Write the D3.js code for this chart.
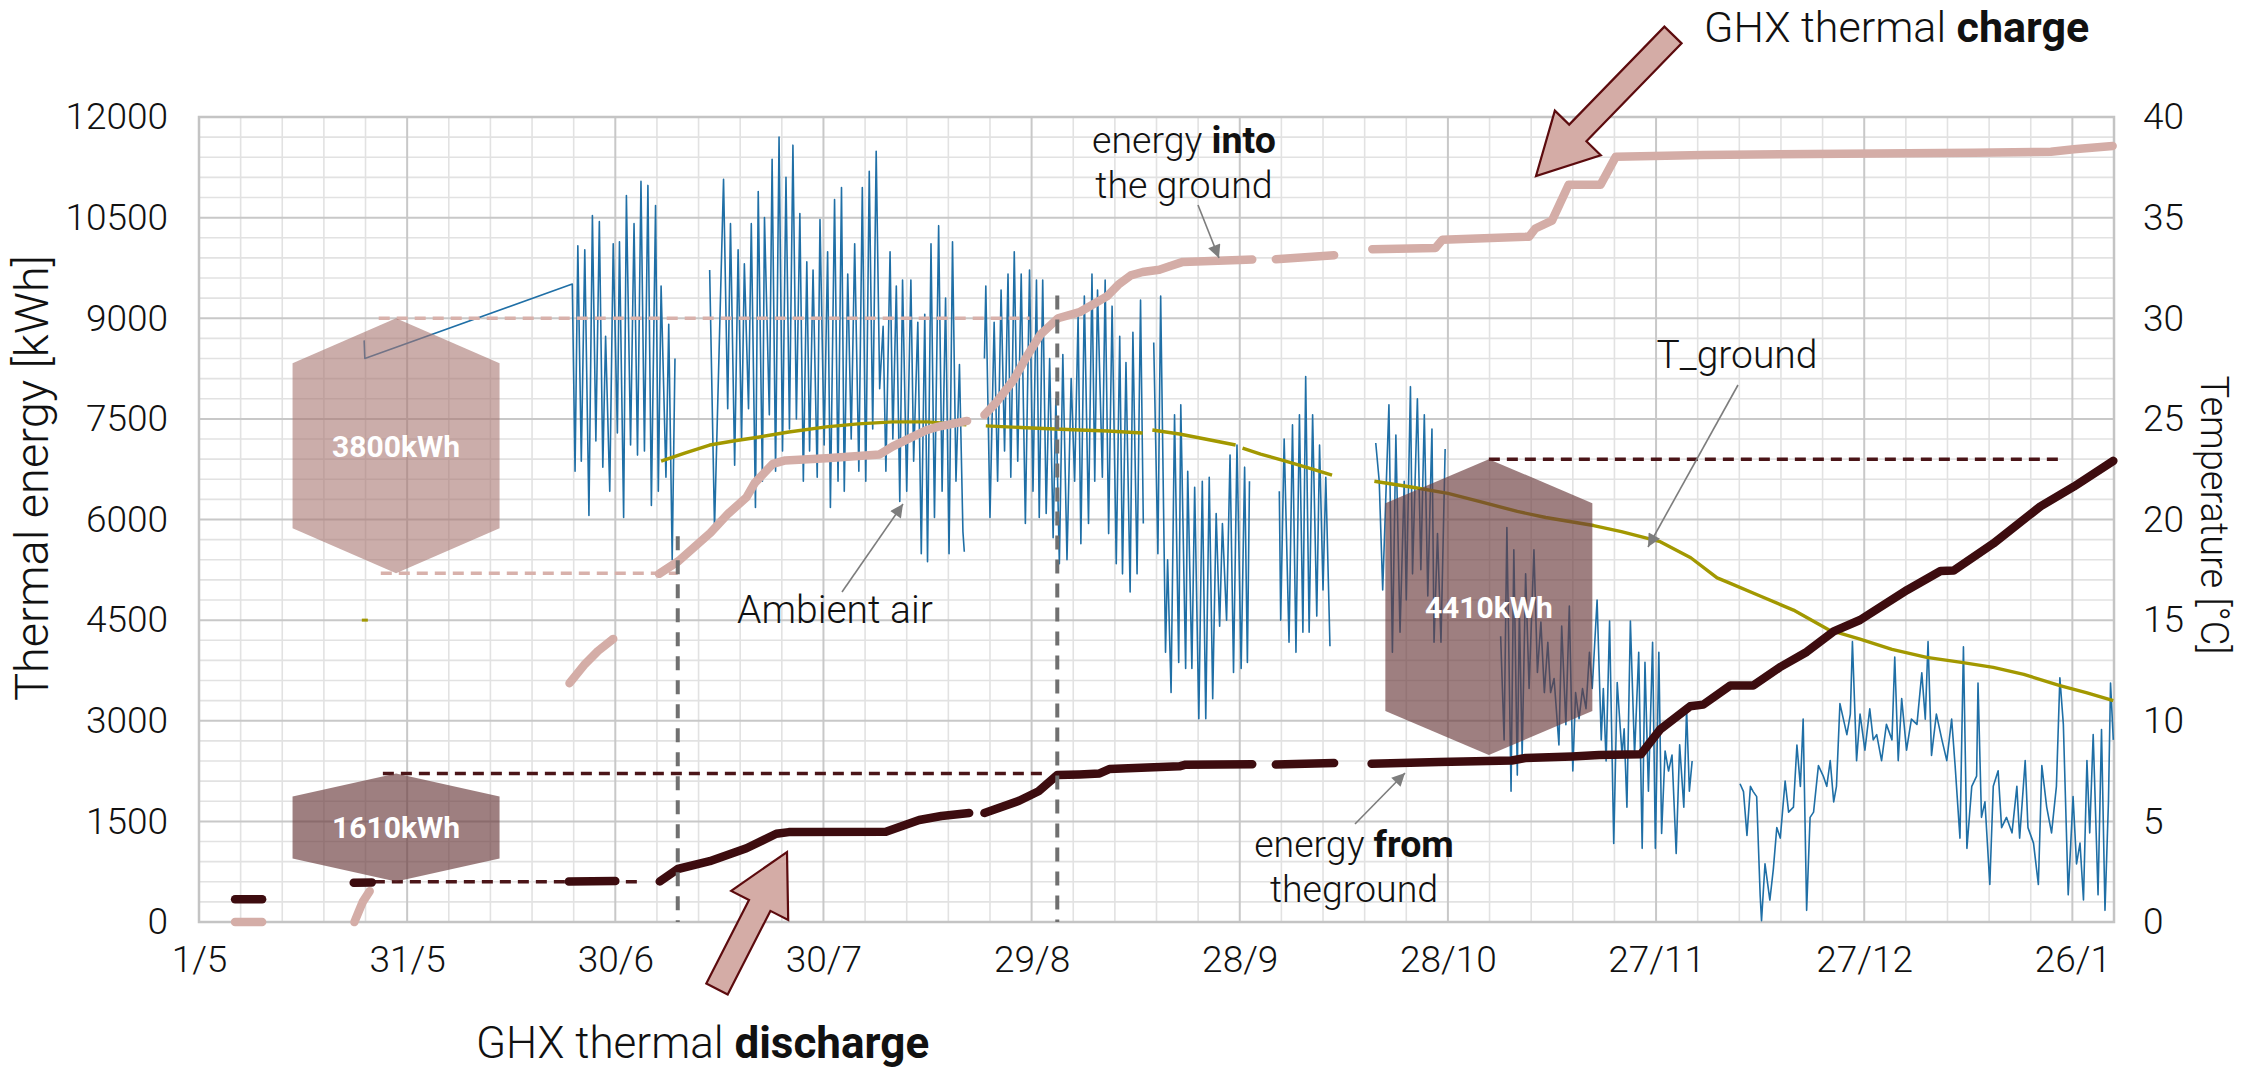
<!DOCTYPE html>
<html>
<head>
<meta charset="utf-8">
<script src="https://cdn.jsdelivr.net/npm/d3@7"></script>
<style>
  html, body { margin: 0; padding: 0; background: #ffffff; }
  svg { display: block; }
  text { font-family: Roboto, "Liberation Sans", Arial, sans-serif; }
</style>
</head>
<body>
<svg id="chart" width="2259" height="1071"></svg>
<script>
// ---------------------------------------------------------------------------
// Data: day offsets are counted from 1 May; energies in kWh, temperatures in °C
// ---------------------------------------------------------------------------
const xTickDates = ["2018-05-01", "2018-05-31", "2018-06-30", "2018-07-30", "2018-08-29",
                    "2018-09-28", "2018-10-28", "2018-11-27", "2018-12-27", "2019-01-26"];
const energyTicks = [0, 1500, 3000, 4500, 6000, 7500, 9000, 10500, 12000];
const tempTicks = [0, 5, 10, 15, 20, 25, 30, 35, 40];

// cumulative heat injected into the ground (logger gaps split the runs)
const energyIntoGround = [
  [[5.2, 0], [9.1, 0]],
  [[22.4, 0], [23.0, 150], [23.6, 300], [24.6, 460]],
  [[53.4, 3560], [55.5, 3830], [57.5, 4040], [59.7, 4220]],
  [[66.3, 5190], [69.1, 5380], [71.5, 5600], [73.7, 5800], [76.3, 6090], [78.9, 6330], [80.1, 6544],
   [82.7, 6830], [84.5, 6880], [90.4, 6912], [98.1, 6970], [100, 7090], [104.8, 7330], [106.4, 7380], [110.7, 7470]],
  [[113.2, 7560], [114.8, 7732], [117.4, 8080], [119.2, 8414], [121.3, 8760], [123.8, 9000], [126.9, 9090],
   [130.9, 9330], [132.5, 9500], [134.3, 9640], [136, 9690], [138.4, 9722], [140, 9780], [141.8, 9840],
   [149.9, 9870], [151.8, 9876]],
  [[155.2, 9880], [163.6, 9940]],
  [[169.1, 10030], [178.2, 10047], [179.2, 10170], [191.7, 10216], [192.6, 10338], [195, 10455], [197.4, 10990],
   [202, 10990], [204.2, 11409], [216.8, 11434], [255.8, 11468], [266.9, 11483], [270.2, 11519], [275.8, 11568]]
];

// cumulative heat extracted from the ground
const energyFromGround = [
  [[5.2, 340], [9.1, 340]],
  [[22.3, 586], [24.9, 590]],
  [[53.3, 605], [60, 610]],
  [[66.4, 605], [69, 790], [73.6, 906], [78.9, 1099], [83.2, 1315], [85, 1340], [99, 1345], [103.8, 1520],
   [107, 1580], [111, 1625]],
  [[113.2, 1625], [118.2, 1807], [121, 1950], [123.7, 2190], [126.9, 2200], [129.8, 2215], [131.2, 2280],
   [141.3, 2320], [142.2, 2345], [151.8, 2350]],
  [[155.2, 2346], [163.6, 2370]],
  [[169, 2360], [178.7, 2385], [189.2, 2407], [191.2, 2445], [197.9, 2468], [201.8, 2490], [207.8, 2500],
   [210.6, 2870], [214.9, 3215], [216.8, 3240], [220.7, 3525], [224, 3525], [227.8, 3795], [231.7, 4025],
   [235.6, 4332], [239.4, 4502], [246.2, 4950], [251, 5232], [252.9, 5241], [258.6, 5641], [265.4, 6196],
   [270.2, 6489], [275.9, 6874]]
];

// ground temperature
const groundTempPoint = [[23.9, 15.0]];
const groundTemp = [
  [[66.6, 22.9], [70, 23.3], [73.6, 23.7], [77, 23.9], [80.8, 24.1], [85, 24.35], [90.4, 24.6], [95, 24.75],
   [100, 24.85], [105, 24.85], [110.6, 24.7]],
  [[113.4, 24.65], [120, 24.55], [126.9, 24.45], [131, 24.4], [136, 24.3]],
  [[137.4, 24.45], [141.3, 24.25], [145, 24.0], [149.4, 23.7]],
  [[150.4, 23.55], [153, 23.25], [156.6, 22.9], [160, 22.55], [163.3, 22.2]],
  [[169.4, 21.9], [174.9, 21.6], [180, 21.3], [184.5, 20.9], [190, 20.4], [194.1, 20.1], [201, 19.7],
   [205, 19.4], [210.6, 18.9], [215, 18.1], [218.8, 17.1], [220.2, 16.9], [225, 16.2], [229.8, 15.5], [235, 14.5],
   [239.4, 14.05], [244, 13.55], [249, 13.15], [254, 12.9], [258.6, 12.65], [263, 12.3], [268.2, 11.75],
   [272, 11.4], [275.9, 11.0]]
];

// ambient air temperature
const ambientAir = [
  [[23.8, 28.9], [23.9, 28.0],
   [53.8, 31.7], [54.2, 22.4], [54.6, 33.6], [55.1, 22.9], [55.6, 33.4], [56.2, 20.2], [56.7, 35.1], [57.2, 23.9],
   [57.7, 34.8], [58.2, 22.6], [58.6, 29.1], [59.2, 21.4], [59.7, 33.7], [60.3, 24.3], [60.6, 33.8], [61.2, 20.1],
   [61.6, 36.1], [62.2, 23.7], [62.7, 34.7], [63.2, 23.2], [63.7, 36.8], [64.2, 23.4], [64.7, 36.6], [65.2, 20.7],
   [65.8, 35.6], [66.2, 21.4], [66.6, 31.6], [67.3, 22.1], [67.7, 29.7], [68.2, 18.0], [68.6, 28.0]],
  [[73.6, 32.4], [74.3, 19.6], [75.6, 36.9], [76.2, 25.5], [76.6, 34.7], [77.2, 22.7], [77.7, 33.4], [78.2, 24.0],
   [78.6, 32.7], [79.2, 25.5], [79.6, 34.7], [80.2, 20.6], [80.6, 36.3], [81.2, 21.9], [81.5, 35.0], [82.2, 25.2],
   [82.6, 37.9], [83.1, 22.4], [83.6, 39.0], [84.1, 23.4], [84.6, 37.0], [85.1, 24.5], [85.6, 38.6], [86.1, 25.0],
   [86.6, 35.2], [87.1, 21.9], [87.6, 32.8], [88.0, 23.4], [88.5, 32.4], [89.1, 22.1], [89.5, 34.9], [90.1, 23.7],
   [90.6, 33.3], [91.0, 20.6], [91.6, 35.9], [92.1, 21.9], [92.6, 36.5], [93.0, 21.4], [93.5, 32.2], [94.0, 24.0],
   [94.5, 33.7], [95.1, 22.4], [95.6, 36.5], [96.1, 21.9], [96.6, 37.3], [97.1, 24.5], [97.6, 38.3], [98.1, 26.5],
   [98.6, 29.6], [99.0, 22.4], [99.6, 33.3], [100.0, 24.0], [100.5, 31.6], [101.0, 20.9], [101.4, 31.9], [102.0, 21.4],
   [102.6, 31.9], [103.0, 22.9], [103.6, 29.8], [104.1, 18.3], [104.6, 30.2], [105.0, 17.9], [105.5, 33.7], [106.0, 20.1],
   [106.6, 34.6], [107.1, 21.4], [107.6, 31.0], [108.1, 18.3], [108.6, 33.8], [109.1, 21.9], [109.6, 27.7], [110.1, 19.4],
   [110.3, 18.4]],
  [[113.2, 28.0], [113.4, 31.6], [114.0, 20.1], [114.6, 29.8], [115.1, 21.9], [115.6, 31.4], [116.1, 23.4], [116.6, 32.2],
   [117.0, 22.1], [117.5, 33.3], [118.0, 22.9], [118.5, 32.2], [119.1, 19.8], [119.7, 32.4], [120.2, 21.4], [120.7, 31.9],
   [121.1, 20.1], [121.6, 31.9], [122.1, 20.3], [122.6, 28.0], [123.1, 19.1], [123.5, 26.0], [124.0, 17.8], [124.5, 28.2],
   [125.1, 18.0], [125.7, 27.0], [126.2, 21.9], [126.7, 30.1], [127.1, 18.8], [127.6, 31.1], [128.2, 19.8], [128.7, 32.2],
   [129.1, 21.9], [129.5, 31.4], [130.2, 22.1], [130.6, 31.9], [131.1, 19.3], [131.6, 30.6], [132.2, 17.8], [132.7, 29.1],
   [133.1, 17.3], [133.6, 27.8], [134.2, 16.4], [134.6, 29.3], [135.2, 17.3], [135.7, 30.9], [136.1, 19.8]],
  [[137.6, 28.8], [138.2, 18.3], [138.6, 31.1], [139.3, 13.4], [139.6, 18.0], [140.1, 11.4], [140.6, 25.2], [141.2, 12.9],
   [141.5, 25.7], [142.2, 12.6], [142.5, 22.4], [143.1, 12.6], [143.5, 21.6], [144.1, 10.1], [144.6, 21.9], [145.1, 10.1],
   [145.6, 22.1], [146.1, 11.1], [146.6, 20.3], [147.1, 14.7], [147.5, 19.8], [148.1, 15.0], [148.6, 23.2], [149.1, 12.4],
   [149.6, 23.7], [150.2, 12.6], [150.7, 22.6], [151.1, 12.9], [151.4, 21.9]],
  [[155.7, 21.4], [155.9, 15.0], [156.4, 24.0], [157.1, 13.9], [157.6, 24.7], [158.1, 13.4], [158.6, 25.2], [159.1, 14.4],
   [159.5, 27.1], [160.0, 14.4], [160.5, 25.2], [161.1, 15.2], [161.5, 23.7], [162.0, 16.5], [162.4, 22.1], [163.0, 13.7]],
  [[169.6, 23.8], [170.1, 21.9], [170.6, 16.5], [171.5, 25.7], [172.0, 13.4], [172.5, 24.2], [173.1, 14.4], [173.7, 21.9],
   [174.0, 16.0], [174.6, 26.6], [174.9, 17.3], [175.6, 26.0], [176.1, 17.5], [176.6, 25.2], [177.1, 16.2], [177.7, 24.5],
   [178.0, 13.9], [178.5, 19.3], [179.0, 13.9], [179.6, 23.5]],
  [[187.6, 14.2], [188.1, 9.05], [188.5, 19.6], [189.1, 6.5], [189.5, 18.5], [190.0, 7.3], [190.3, 15.5], [190.7, 8.3],
   [191.2, 17.3], [191.7, 11.6], [192.4, 18.5], [192.9, 12.4], [193.4, 14.9], [193.9, 11.4], [194.4, 13.9], [194.8, 11.4],
   [195.3, 12.1], [196.0, 8.8], [196.4, 14.7], [197.0, 9.8], [197.5, 15.7], [198.0, 7.5], [198.4, 11.4], [198.9, 10.1],
   [199.4, 11.6], [199.9, 10.6], [200.4, 13.4], [200.8, 11.6], [201.5, 16.0], [202.1, 9.05], [202.4, 11.6], [202.8, 8.0],
   [203.3, 14.95], [203.9, 3.9], [204.4, 11.9], [205.1, 8.3], [205.4, 9.6], [205.8, 5.7], [206.3, 14.95], [206.9, 8.3],
   [207.5, 13.4], [208.0, 3.66], [208.4, 12.9], [208.9, 6.5], [209.5, 13.9], [209.9, 3.66], [210.4, 13.4], [210.8, 4.4],
   [211.3, 8.5], [211.8, 7.5], [212.3, 8.3], [212.9, 3.4], [213.4, 8.8], [214.0, 5.7], [214.4, 10.6], [214.8, 6.5],
   [215.2, 8.0]],
  [[222.1, 6.87], [222.6, 6.48], [223.1, 4.3], [223.6, 6.74], [224.0, 6.48], [224.5, 6.23], [225.0, 1.35], [225.2, 0.07],
   [225.7, 2.89], [226.4, 1.09], [226.9, 2.63], [227.4, 4.69], [227.9, 4.17], [228.6, 7.0], [229.1, 5.46], [229.8, 5.71],
   [230.3, 8.79], [230.8, 6.74], [231.2, 10.08], [231.7, 0.58], [232.2, 5.2], [232.7, 5.46], [233.4, 7.77], [234.1, 7.25],
   [234.6, 6.74], [235.1, 8.02], [235.6, 5.97], [236.0, 6.74], [236.5, 10.85], [237.5, 9.31], [238.0, 10.33], [238.3, 13.93],
   [238.9, 8.02], [239.4, 10.33], [240.1, 8.54], [240.8, 10.59], [241.3, 9.05], [241.8, 9.31], [242.5, 8.02], [243.2, 9.82],
   [244.0, 9.05], [244.4, 13.16], [244.9, 8.02], [245.4, 11.1], [246.1, 8.54], [246.8, 10.08], [247.6, 9.82], [248.3, 12.38],
   [248.8, 10.08], [249.2, 13.93], [249.7, 8.28], [250.4, 10.33], [251.2, 9.05], [251.9, 8.02], [252.6, 10.08], [253.1, 7.77],
   [253.8, 4.17], [254.3, 13.67], [254.8, 3.66], [255.5, 6.74], [256.2, 7.25], [256.4, 11.87], [256.9, 5.2], [257.4, 5.97],
   [258.1, 1.86], [258.6, 6.74], [259.3, 7.51], [259.8, 4.69], [260.5, 5.2], [261.3, 4.43], [262.0, 6.74], [262.4, 4.17],
   [263.2, 8.02], [263.6, 4.69], [264.4, 3.92], [265.1, 1.86], [265.6, 7.77], [266.3, 5.71], [267.0, 4.43], [267.7, 6.74],
   [268.2, 12.13], [268.7, 9.82], [269.4, 1.35], [270.1, 6.23], [270.6, 2.89], [271.1, 3.92], [271.6, 1.09], [272.1, 8.02],
   [272.5, 4.43], [273.0, 9.31], [273.7, 1.35], [274.2, 9.56], [274.7, 0.58], [275.2, 5.97], [275.5, 11.87], [275.9, 9.05]]
];

// storage levels reached at the end of the charge / discharge periods
const chargeLevels = [
  { start: 25.9, end: 119.7, value: 9000 },
  { start: 26.2, end: 69.0, value: 5200 }
];
const dischargeLevels = [
  { start: 26.5, end: 121.5, value: 2215 },
  { start: 25.2, end: 63.7, value: 600 },
  { start: 185.9, end: 268.4, value: 6900 }
];
const periodMarks = [
  { day: 69.0, top: 5750 },
  { day: 123.7, top: 9340 }
];
// stored / extracted energy over each period
const storedEnergy = [
  { label: "3800kWh", day: 28.4, top: 9000, bottom: 5200, kind: "charge" },
  { label: "1610kWh", day: 28.4, top: 2215, bottom: 605, kind: "discharge" },
  { label: "4410kWh", day: 185.9, top: 6900, bottom: 2490, kind: "discharge" }
];

// ---------------------------------------------------------------------------
const svg = d3.select("#chart");
const M = { left: 199, right: 2114, top: 117, bottom: 922 };
const t0 = Date.UTC(2018, 4, 1);
const toDate = d => new Date(t0 + d * 864e5);

const x = d3.scaleUtc().domain([toDate(0), toDate(276)]).range([M.left, M.right]);
const yE = d3.scaleLinear().domain([0, 12000]).range([M.bottom, M.top]);
const yT = d3.scaleLinear().domain([0, 40]).range([M.bottom, M.top]);

const C = {
  gridMinor: "#e2e2e2", gridMajor: "#c8c8c8", frame: "#c4c4c4",
  into: "#d4ada7", from: "#3d0c0f", ground: "#a29800", air: "#1f6fa6",
  intoDash: "#d8b1ab", fromDash: "#4b1518", mark: "#707070", leader: "#7d7d7d",
  text: "#111111"
};

svg.append("rect").attr("width", 2259).attr("height", 1071).attr("fill", "#fff");

// grid
const grid = svg.append("g");
d3.range(0, 12001, 300).filter(v => v % 1500 !== 0).forEach(v => {
  grid.append("line").attr("x1", M.left).attr("x2", M.right).attr("y1", yE(v)).attr("y2", yE(v))
    .attr("stroke", C.gridMinor).attr("stroke-width", 1.6);
});
d3.range(0, 277, 6).filter(d => d % 30 !== 0).forEach(d => {
  grid.append("line").attr("y1", M.top).attr("y2", M.bottom).attr("x1", x(toDate(d))).attr("x2", x(toDate(d)))
    .attr("stroke", C.gridMinor).attr("stroke-width", 1.6);
});
energyTicks.forEach(v => {
  grid.append("line").attr("x1", M.left).attr("x2", M.right).attr("y1", yE(v)).attr("y2", yE(v))
    .attr("stroke", C.gridMajor).attr("stroke-width", 2);
});
xTickDates.forEach(s => {
  const px = x(new Date(s + "T00:00:00Z"));
  grid.append("line").attr("y1", M.top).attr("y2", M.bottom).attr("x1", px).attr("x2", px)
    .attr("stroke", C.gridMajor).attr("stroke-width", 2);
});
svg.append("rect").attr("x", M.left).attr("y", M.top).attr("width", M.right - M.left).attr("height", M.bottom - M.top)
  .attr("fill", "none").attr("stroke", C.frame).attr("stroke-width", 2.5);

// axes
const styleAxis = g => {
  g.attr("font-family", null).attr("font-size", null);
  g.select(".domain").remove();
  g.selectAll("text").attr("font-size", 37).attr("font-weight", 300).attr("fill", C.text);
};
svg.append("g").attr("transform", `translate(${M.left},0)`)
  .call(d3.axisLeft(yE).tickValues(energyTicks).tickSize(0).tickPadding(31).tickFormat(d3.format("d")))
  .call(styleAxis);
svg.append("g").attr("transform", `translate(${M.right},0)`)
  .call(d3.axisRight(yT).tickValues(tempTicks).tickSize(0).tickPadding(29))
  .call(styleAxis);
svg.append("g").attr("transform", `translate(0,${M.bottom})`)
  .call(d3.axisBottom(x).tickValues(xTickDates.map(s => new Date(s + "T00:00:00Z")))
    .tickFormat(d3.utcFormat("%-d/%-m")).tickSize(0).tickPadding(24))
  .call(styleAxis);

svg.append("text").attr("transform", "translate(48,478) rotate(-90)").attr("text-anchor", "middle")
  .attr("font-size", 47).attr("font-weight", 300).attr("fill", C.text).text("Thermal energy [kWh]");
svg.append("text").attr("transform", "translate(2201,515) rotate(90)").attr("text-anchor", "middle")
  .attr("font-size", 38).attr("font-weight", 300).attr("fill", C.text).text("Temperature [°C]");

// series
const lineE = d3.line().x(d => x(toDate(d[0]))).y(d => yE(d[1]));
const lineT = d3.line().x(d => x(toDate(d[0]))).y(d => yT(d[1]));

svg.append("g").selectAll("path").data(ambientAir).join("path")
  .attr("d", lineT).attr("fill", "none").attr("stroke", C.air).attr("stroke-width", 1.6)
  .attr("stroke-linejoin", "round");

svg.append("g").selectAll("path").data(groundTemp).join("path")
  .attr("d", lineT).attr("fill", "none").attr("stroke", C.ground).attr("stroke-width", 3.4)
  .attr("stroke-linejoin", "round");
svg.append("g").selectAll("rect").data(groundTempPoint).join("rect")
  .attr("x", d => x(toDate(d[0])) - 3).attr("y", d => yT(d[1]) - 1.5).attr("width", 6).attr("height", 3)
  .attr("fill", C.ground);

const levels = svg.append("g");
chargeLevels.forEach(l => levels.append("line")
  .attr("x1", x(toDate(l.start))).attr("x2", x(toDate(l.end))).attr("y1", yE(l.value)).attr("y2", yE(l.value))
  .attr("stroke", C.intoDash).attr("stroke-width", 3.5).attr("stroke-dasharray", "11 7"));
dischargeLevels.forEach(l => levels.append("line")
  .attr("x1", x(toDate(l.start))).attr("x2", x(toDate(l.end))).attr("y1", yE(l.value)).attr("y2", yE(l.value))
  .attr("stroke", C.fromDash).attr("stroke-width", 3.5).attr("stroke-dasharray", "11 7"));

svg.append("g").selectAll("path").data(energyIntoGround).join("path")
  .attr("d", lineE).attr("fill", "none").attr("stroke", C.into).attr("stroke-width", 8.5)
  .attr("stroke-linejoin", "round").attr("stroke-linecap", "round");
svg.append("g").selectAll("path").data(energyFromGround).join("path")
  .attr("d", lineE).attr("fill", "none").attr("stroke", C.from).attr("stroke-width", 8.5)
  .attr("stroke-linejoin", "round").attr("stroke-linecap", "round");

svg.append("g").selectAll("line").data(periodMarks).join("line")
  .attr("x1", d => x(toDate(d.day))).attr("x2", d => x(toDate(d.day)))
  .attr("y1", d => yE(d.top)).attr("y2", M.bottom)
  .attr("stroke", C.mark).attr("stroke-width", 4).attr("stroke-dasharray", "14 10");

// hexagons showing the energy exchanged in each period
const hexW = 103.5;
const hexShoulder = { "3800kWh": 45, "1610kWh": 23, "4410kWh": 44 };
const hexes = svg.append("g");
storedEnergy.forEach(h => {
  const cx = x(toDate(h.day)), yt = yE(h.top), yb = yE(h.bottom), s = hexShoulder[h.label];
  const pts = [[cx, yt], [cx + hexW, yt + s], [cx + hexW, yb - s], [cx, yb], [cx - hexW, yb - s], [cx - hexW, yt + s]];
  hexes.append("polygon").attr("points", pts.map(p => p.join(",")).join(" "))
    .attr("fill", h.kind === "charge" ? "#a87671" : "#6a3a3c")
    .attr("fill-opacity", h.kind === "charge" ? 0.6 : 0.65);
  hexes.append("text").attr("x", cx).attr("y", (yt + yb) / 2).attr("dy", "0.36em").attr("text-anchor", "middle")
    .attr("font-family", "'Liberation Sans', Arial, sans-serif").attr("font-weight", 700).attr("font-size", 30)
    .attr("fill", "#ffffff").text(h.label);
});

// block arrows
function blockArrow(tip, tail, headLen, headHalf, shaftHalf) {
  const dx = tip[0] - tail[0], dy = tip[1] - tail[1], len = Math.hypot(dx, dy);
  const ux = dx / len, uy = dy / len, px = -uy, py = ux;
  const P = (a, b) => [tip[0] - ux * a + px * b, tip[1] - uy * a + py * b];
  return [P(0, 0), P(headLen, headHalf), P(headLen, shaftHalf), P(len, shaftHalf),
          P(len, -shaftHalf), P(headLen, -shaftHalf), P(headLen, -headHalf)];
}
const arrows = [
  { tip: [1536, 176], tail: [1673, 35] },
  { tip: [787, 852], tail: [717, 989] }
];
arrows.forEach(a => {
  svg.append("polygon").attr("points", blockArrow(a.tip, a.tail, 60, 32, 12).map(p => p.join(",")).join(" "))
    .attr("fill", "#d4aca6").attr("stroke", "#5c0b0e").attr("stroke-width", 2.2).attr("stroke-linejoin", "miter");
});

// annotation leaders
svg.append("defs").append("marker").attr("id", "tri").attr("viewBox", "0 0 10 10").attr("refX", 10).attr("refY", 5)
  .attr("markerUnits", "userSpaceOnUse").attr("markerWidth", 16).attr("markerHeight", 13).attr("orient", "auto")
  .append("path").attr("d", "M0,0 L10,5 L0,10 z").attr("fill", C.leader);
const leaders = [
  [[1198, 205], [1219, 258]],
  [[842, 592], [903, 504]],
  [[1355, 824], [1405, 773]],
  [[1738, 385], [1648, 547]]
];
leaders.forEach(l => svg.append("line").attr("x1", l[0][0]).attr("y1", l[0][1]).attr("x2", l[1][0]).attr("y2", l[1][1])
  .attr("stroke", C.leader).attr("stroke-width", 1.6).attr("marker-end", "url(#tri)"));

// text annotations: one text element per note, one tspan chunk per line, bold runs inline
function note(xp, yp, lines, anchor, size, lineGap) {
  const t = svg.append("text").attr("text-anchor", anchor).attr("font-size", size)
    .attr("font-weight", 300).attr("fill", C.text);
  lines.forEach((runs, i) => {
    runs.forEach((r, j) => {
      const s = t.append("tspan").attr("font-weight", r[1] ? 700 : 300).text(r[0]);
      if (j === 0) s.attr("x", xp).attr("y", yp + i * (lineGap || 0));
    });
  });
}
note(1704, 42, [[["GHX thermal "], ["charge", 1]]], "start", 43);
note(476, 1058, [[["GHX thermal "], ["discharge", 1]]], "start", 44);
note(1184, 153, [[["energy "], ["into", 1]], [["the ground"]]], "middle", 37.5, 44.5);
note(835, 623, [[["Ambient air"]]], "middle", 39);
note(1354, 857, [[["energy "], ["from", 1]], [["theground"]]], "middle", 37.5, 44.5);
note(1737, 368, [[["T_ground"]]], "middle", 39);
</script>
</body>
</html>
